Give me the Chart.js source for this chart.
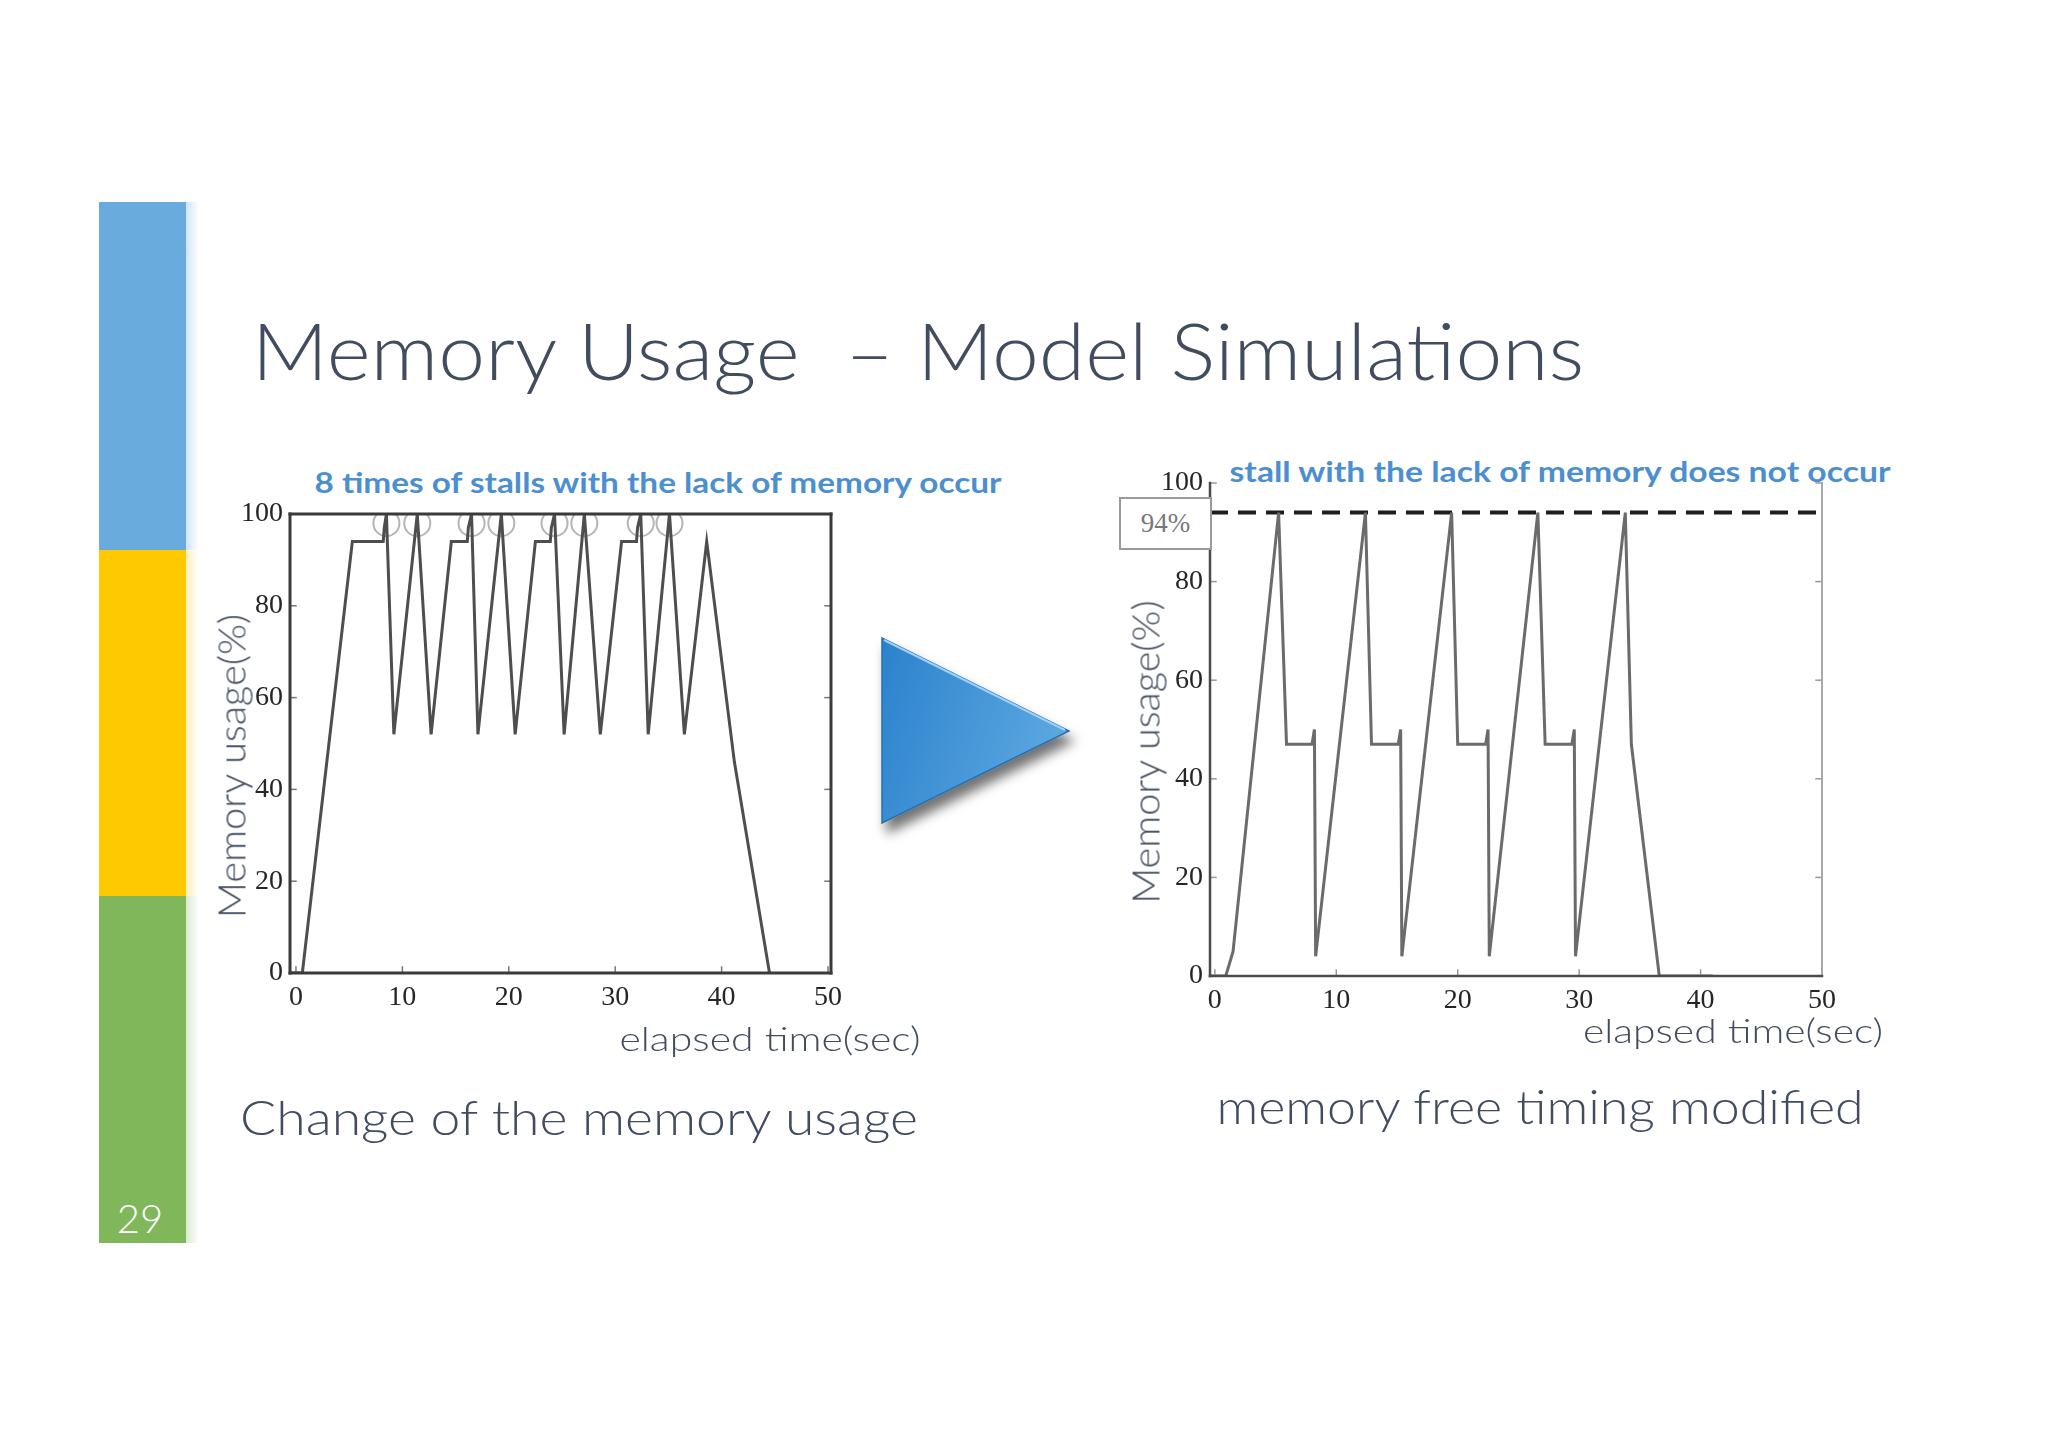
<!DOCTYPE html>
<html>
<head>
<meta charset="utf-8">
<script src="https://cdn.jsdelivr.net/npm/chart.js@4.4.0/dist/chart.umd.min.js"></script>
<style>
  html, body { margin: 0; padding: 0; background: #fff; }
  #slide { position: relative; width: 2048px; height: 1447px; overflow: hidden; background: #fff; }
  .bar { position: absolute; left: 99px; width: 87px; }
  .strip { position: absolute; left: 186px; width: 13px; }
  .txt { position: absolute; white-space: nowrap; line-height: 1; font-family: Lato, "Open Sans", sans-serif; color: #414c5f; }
  .blue { color: #4c8fd0; font-weight: bold; }
  .chartbox { position: absolute; }
  #box94 { position: absolute; left: 1119px; top: 497px; width: 89px; height: 49px; border: 2px solid #9a9a9a; background: #fff;
           font-family: "Liberation Serif", serif; font-size: 27px; color: #777; text-align: center; line-height: 49px; }
</style>
</head>
<body>
<div id="slide">
  <div class="bar" style="top:202px;height:348px;background:#6aabdd"></div>
  <div class="bar" style="top:550px;height:346px;background:#fec900"></div>
  <div class="bar" style="top:896px;height:347px;background:#80b75b"></div>
  <div class="strip" style="top:202px;height:348px;background:linear-gradient(to right,#cfe4f5,#fff)"></div>
  <div class="strip" style="top:550px;height:346px;background:linear-gradient(to right,#fdf0c0,#fff)"></div>
  <div class="strip" style="top:896px;height:347px;background:linear-gradient(to right,#dcebd0,#fff)"></div>
  <div class="txt" data-x="140" data-y="1218" style="color:#fff;font-size:40px;font-weight:300">29</div>

  <div class="txt" data-x="918" data-y="350" data-w="1333" style="font-size:78px;font-weight:300">Memory Usage&nbsp; – Model Simulations</div>

  <div class="txt blue" data-x="658" data-y="481" data-w="687" style="font-size:29px">8 times of stalls with the lack of memory occur</div>
  <div class="txt blue" data-x="1560" data-y="470" data-w="661" style="font-size:29px">stall with the lack of memory does not occur</div>

  <div class="chartbox" style="left:200px;top:490px;width:680px;height:560px"><canvas id="left"></canvas></div>
  <div class="chartbox" style="left:1100px;top:455px;width:760px;height:600px"><canvas id="right"></canvas></div>
  <div id="box94">94%</div>

  <div class="txt" data-x="231" data-y="766" data-w="304" data-r="-90" style="font-size:37px;font-weight:300">Memory usage(%)</div>
  <div class="txt" data-x="1145" data-y="752" data-w="303" data-r="-90" style="font-size:37px;font-weight:300">Memory usage(%)</div>
  <div class="txt" data-x="770" data-y="1038" data-w="301" style="font-size:34px;font-weight:300">elapsed time(sec)</div>
  <div class="txt" data-x="1733" data-y="1030" data-w="300" style="font-size:34px;font-weight:300">elapsed time(sec)</div>
  <div class="txt" data-x="579" data-y="1117" data-w="678" style="font-size:48px;font-weight:300">Change of the memory usage</div>
  <div class="txt" data-x="1540" data-y="1106" data-w="647" style="font-size:48px;font-weight:300">memory free timing modified</div>

  <svg style="position:absolute;left:860px;top:620px" width="240" height="240">
    <defs>
      <linearGradient id="tri" x1="0" y1="0" x2="1" y2="0.3">
        <stop offset="0" stop-color="#2b82cc"/>
        <stop offset="1" stop-color="#5ba6e0"/>
      </linearGradient>
      <filter id="shadow" x="-20%" y="-20%" width="150%" height="150%">
        <feDropShadow dx="5" dy="10" stdDeviation="6" flood-color="#000" flood-opacity="0.55"/>
      </filter>
    </defs>
    <polygon points="22,18 22,203 209,111" fill="url(#tri)" stroke="#2a6fae" stroke-width="1.5" filter="url(#shadow)"/>
    <line x1="24" y1="20" x2="205" y2="110" stroke="#9fd0f5" stroke-width="2"/>
  </svg>
</div>

<script>
// tick labels
const xTicks = [0, 10, 20, 30, 40, 50];
const yTicks = [0, 20, 40, 60, 80, 100];

// left: change of the memory usage
const leftTime  = [-0.5, 0.6, 5.3, 8.2, 8.3, 8.5, 9.2, 11.4, 12.7, 14.6, 16.1, 16.2, 16.5, 17.1, 19.3, 20.6,
                   22.5, 23.9, 24.0, 24.3, 25.2, 27.1, 28.6, 30.6, 32.0, 32.1, 32.4, 33.1, 35.1, 36.5, 38.6, 41.2, 44.5];
const leftUsage = [0, 0, 94, 94, 97, 100, 52, 100, 52, 94, 94, 97, 100, 52, 100, 52,
                   94, 94, 97, 100, 52, 100, 52, 94, 94, 97, 100, 52, 100, 52, 94, 46, 0];
// circled stalls
const stallTime  = [8.5, 11.4, 16.5, 19.3, 24.3, 27.1, 32.4, 35.1];
const stallUsage = [98, 98, 98, 98, 98, 98, 98, 98];

// right: memory free timing modified
const rightTime  = [-0.4, 0.9, 1.5, 5.25, 5.9, 8.0, 8.2, 8.3, 12.4, 12.9, 15.1, 15.3, 15.4, 19.5, 20.0, 22.3,
                    22.5, 22.6, 26.6, 27.2, 29.4, 29.6, 29.7, 33.8, 34.3, 36.6, 41.0];
const rightUsage = [0, 0, 5, 94, 47, 47, 50, 4, 94, 47, 47, 50, 4, 94, 47, 47,
                    50, 4, 94, 47, 47, 50, 4, 94, 47, 0, 0];
const limitLine = 94;

const zip = (xs, ys) => xs.map((x, i) => ({ x: x, y: ys[i] }));

// draws the axes frame plus small inward tick marks
const framePlugin = {
  id: 'frame',
  afterDraw(chart, args, opts) {
    const { ctx, chartArea: a, scales } = chart;
    ctx.save();
    ctx.lineCap = 'square';
    ctx.lineWidth = 1.5;
    ctx.strokeStyle = opts.tickColor;
    yTicks.forEach(v => {
      const y = scales.y.getPixelForValue(v);
      ctx.beginPath(); ctx.moveTo(a.left, y); ctx.lineTo(a.left + 6, y); ctx.stroke();
      ctx.beginPath(); ctx.moveTo(a.right, y); ctx.lineTo(a.right - 6, y); ctx.stroke();
    });
    xTicks.forEach(v => {
      const x = scales.x.getPixelForValue(v);
      ctx.beginPath(); ctx.moveTo(x, a.bottom); ctx.lineTo(x, a.bottom - 6); ctx.stroke();
    });
    const side = (c, w, x1, y1, x2, y2) => {
      if (!c) return;
      ctx.strokeStyle = c; ctx.lineWidth = w;
      ctx.beginPath(); ctx.moveTo(x1, y1); ctx.lineTo(x2, y2); ctx.stroke();
    };
    side(opts.top, opts.width, a.left, a.top, a.right, a.top);
    side(opts.right, opts.rightWidth || opts.width, a.right, a.top, a.right, a.bottom);
    side(opts.bottom, opts.width, a.left, a.bottom, a.right, a.bottom);
    side(opts.left, opts.width, a.left, a.top, a.left, a.bottom);
    ctx.restore();
  }
};

const tickFont = { family: '"Liberation Serif", "DejaVu Serif", serif', size: 28 };

function makeOptions(xmin, xmax, yWidth, xHeight, pad, frame) {
  return {
    responsive: true,
    maintainAspectRatio: false,
    animation: false,
    layout: { padding: pad },
    plugins: { legend: { display: false }, tooltip: { enabled: false }, frame: frame },
    scales: {
      x: {
        type: 'linear', min: xmin, max: xmax,
        afterBuildTicks: s => { s.ticks = xTicks.map(v => ({ value: v })); },
        afterFit: s => { s.height = xHeight; },
        grid: { display: false, drawTicks: false },
        border: { display: false },
        ticks: { font: tickFont, color: '#262626', padding: 8, maxRotation: 0, autoSkip: false }
      },
      y: {
        min: 0, max: 100,
        afterBuildTicks: s => { s.ticks = yTicks.map(v => ({ value: v })); },
        afterFit: s => { s.width = yWidth; },
        grid: { display: false, drawTicks: false },
        border: { display: false },
        ticks: { font: tickFont, color: '#262626', padding: 7 }
      }
    }
  };
}

new Chart(document.getElementById('left').getContext('2d'), {
  type: 'line',
  data: {
    datasets: [
      { data: zip(leftTime, leftUsage), borderColor: '#4e4e4e', borderWidth: 3, pointRadius: 0, tension: 0 },
      { data: zip(stallTime, stallUsage), showLine: false, pointRadius: 13, pointStyle: 'circle',
        pointBorderColor: 'rgba(150,150,150,0.7)', pointBorderWidth: 2, pointBackgroundColor: 'rgba(0,0,0,0)' }
    ]
  },
  options: makeOptions(-0.56, 50.28, 90, 77, { top: 24, right: 49, bottom: 0, left: 0 },
    { top: '#3a3a3a', right: '#3a3a3a', bottom: '#3a3a3a', left: '#3a3a3a', width: 3, tickColor: '#777' }),
  plugins: [framePlugin]
});

new Chart(document.getElementById('right').getContext('2d'), {
  type: 'line',
  data: {
    datasets: [
      { data: zip(rightTime, rightUsage), borderColor: '#6b6b6b', borderWidth: 3, pointRadius: 0, tension: 0 },
      { data: zip([-0.4, 50], [limitLine, limitLine]), borderColor: '#1e1e1e', borderWidth: 4,
        borderDash: [18, 10], pointRadius: 0 }
    ]
  },
  options: makeOptions(-0.4, 50, 110, 79, { top: 28, right: 38, bottom: 0, left: 0 },
    { right: '#a8a8a8', rightWidth: 2, bottom: '#4a4a4a', left: '#4a4a4a', width: 2.5, tickColor: '#999' }),
  plugins: [framePlugin]
});

// place slide texts by centre, stretch to measured widths
function placeTexts() {
  document.querySelectorAll('.txt').forEach(el => {
    el.style.left = el.dataset.x + 'px';
    el.style.top = el.dataset.y + 'px';
    const k = el.dataset.w ? el.dataset.w / el.offsetWidth : 1;
    el.style.transform = 'translate(-50%,-50%) rotate(' + (el.dataset.r || 0) + 'deg) scaleX(' + k + ')';
  });
}
placeTexts();
if (document.fonts) document.fonts.ready.then(placeTexts);
</script>
</body>
</html>
